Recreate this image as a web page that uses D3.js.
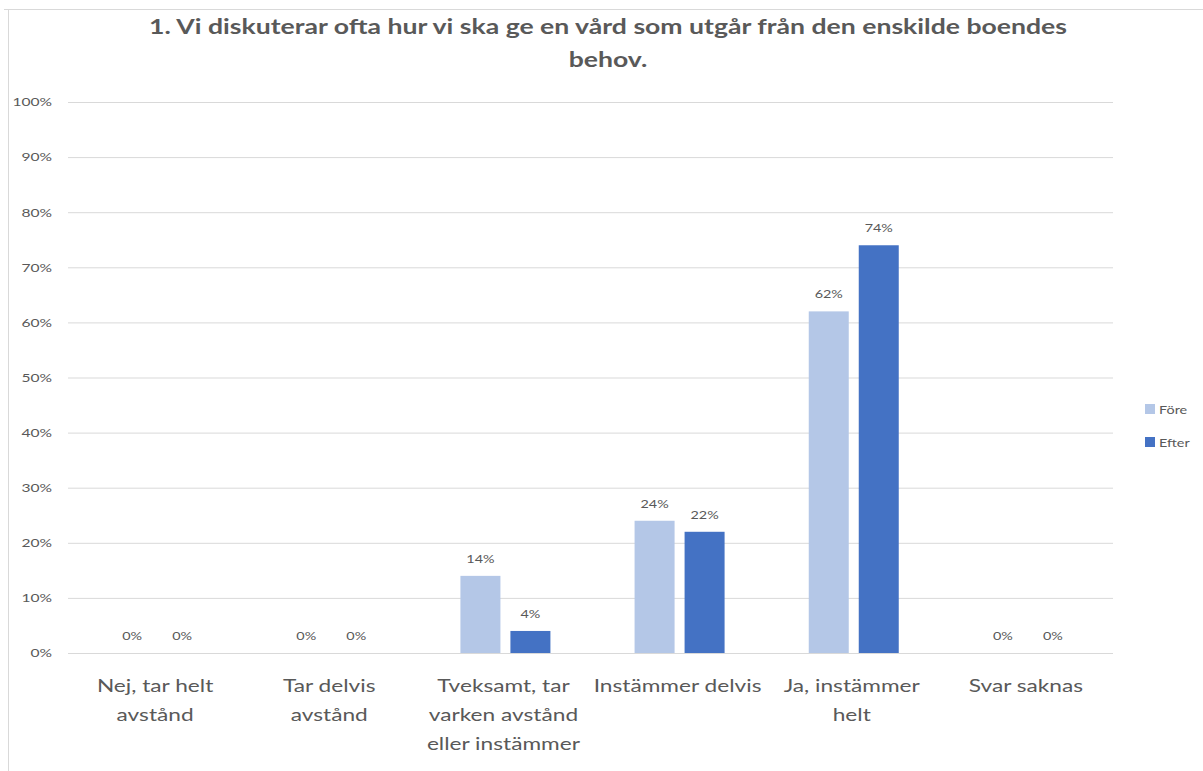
<!DOCTYPE html>
<html>
<head>
<meta charset="utf-8">
<script src="https://cdn.jsdelivr.net/npm/d3@7"></script>
<style>
  body { margin: 0; background: #fff; }
  text { font-family: Lato, "Open Sans", sans-serif; fill: #595959; }
</style>
</head>
<body>
<svg id="chart" width="1203" height="771"></svg>
<script>
// chart data
const categories = [
  ["Nej, tar helt", "avstånd"],
  ["Tar delvis", "avstånd"],
  ["Tveksamt, tar", "varken avstånd", "eller instämmer"],
  ["Instämmer delvis"],
  ["Ja, instämmer", "helt"],
  ["Svar saknas"]
];
const series = ["Före", "Efter"];
const fore = [0, 0, 14, 24, 62, 0];
const efter = [0, 0, 4, 22, 74, 0];
const yTicks = [0, 10, 20, 30, 40, 50, 60, 70, 80, 90, 100];
const titleLines = [
  "1. Vi diskuterar ofta hur vi ska ge en vård som utgår från den enskilde boendes",
  "behov."
];

const svg = d3.select("#chart");
const margin = { top: 102, left: 68, right: 90, bottom: 118 };
const width = 1203, height = 771;
// the original picture is a bit stretched sideways, so text gets widened too
const SX = 1.3;

const data = categories.map((c, i) => ({ cat: i, label: c, values: [fore[i], efter[i]] }));

const xscale = d3.scaleBand()
  .domain(d3.range(categories.length))
  .range([margin.left, width - margin.right]);
const xsub = d3.scaleBand()
  .domain(series)
  .range([0, 90])
  .paddingInner(0.2);
const yscale = d3.scaleLinear()
  .domain([0, 100])
  .range([height - margin.bottom, margin.top]);
const cscale = d3.scaleOrdinal().domain(series).range(["#B4C7E7", "#4472C4"]);

// outer frame lines
svg.append("line").attr("x1", 4).attr("x2", width).attr("y1", 9.5).attr("y2", 9.5)
  .attr("stroke", "#d9d9d9");
svg.append("line").attr("x1", 8.5).attr("x2", 8.5).attr("y1", 9).attr("y2", height)
  .attr("stroke", "#d9d9d9");

// title
svg.append("g").selectAll("text")
  .data(titleLines)
  .join("text")
  .attr("transform", (d, i) => `translate(608,${34 + i * 33}) scale(1.33,1)`)
  .attr("text-anchor", "middle")
  .attr("font-size", 20)
  .attr("font-weight", "bold")
  .text((d) => d);

// y axis with gridlines
const yAxis = d3.axisLeft(yscale)
  .tickValues(yTicks)
  .tickSize(-(width - margin.left - margin.right))
  .tickPadding(16)
  .tickFormat((d) => d + "%");
const gy = svg.append("g")
  .attr("transform", `translate(${margin.left},0)`)
  .call(yAxis);
gy.select(".domain").remove();
gy.selectAll(".tick line").attr("stroke", "#d9d9d9");
gy.selectAll(".tick text")
  .attr("font-size", 12)
  .style("font-family", "Lato, sans-serif")
  .attr("fill", "#595959")
  .attr("x", -16 / SX)
  .attr("transform", `scale(${SX},1)`);

// bars
const groups = svg.append("g")
  .selectAll("g")
  .data(data)
  .join("g")
  .attr("transform", (d) => `translate(${xscale(d.cat) + xscale.bandwidth() / 2 - 43},0)`);

groups.selectAll("rect")
  .data((d) => d.values.map((v, j) => ({ s: series[j], v })))
  .join("rect")
  .attr("x", (d) => xsub(d.s))
  .attr("width", xsub.bandwidth())
  .attr("y", (d) => yscale(d.v))
  .attr("height", (d) => yscale(0) - yscale(d.v))
  .attr("fill", (d) => cscale(d.s));

groups.selectAll("text")
  .data((d) => d.values.map((v, j) => ({ s: series[j], v })))
  .join("text")
  .attr("transform", (d) => `translate(${xsub(d.s) + xsub.bandwidth() / 2},${yscale(d.v) - 13}) scale(1.2,1)`)
  .attr("text-anchor", "middle")
  .attr("font-size", 12)
  .text((d) => d.v + "%");

// category labels
const cats = svg.append("g")
  .selectAll("text")
  .data(data)
  .join("text")
  .attr("text-anchor", "middle")
  .attr("font-size", 18)
  .attr("transform", (d) => `translate(${xscale(d.cat) + xscale.bandwidth() / 2},0) scale(1.26,1)`);
cats.selectAll("tspan")
  .data((d) => d.label)
  .join("tspan")
  .attr("x", 0)
  .attr("y", (d, i) => 692 + i * 29)
  .text((d) => d);

// legend
const legend = svg.append("g")
  .selectAll("g")
  .data(series)
  .join("g")
  .attr("transform", (d, i) => `translate(1145,${404 + i * 33})`);
legend.append("rect").attr("width", 10).attr("height", 10).attr("fill", cscale);
legend.append("text")
  .attr("transform", `translate(14,9.5) scale(1.2,1)`)
  .attr("font-size", 12)
  .text((d) => d);
</script>
</body>
</html>
